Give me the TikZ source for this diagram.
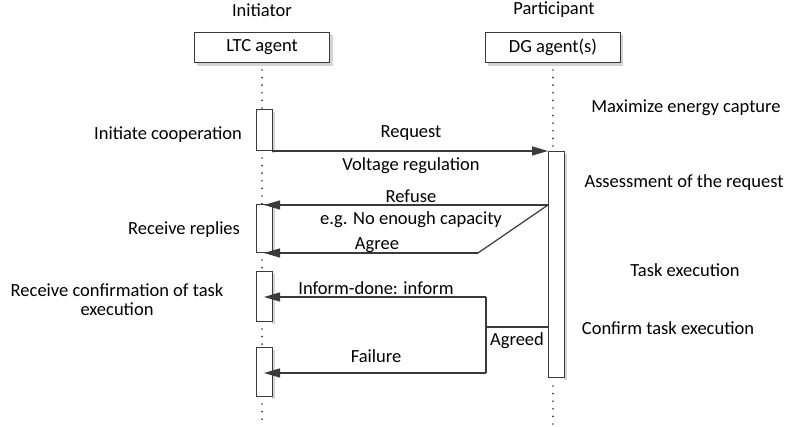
\documentclass[tikz,border=0pt]{standalone}
\usepackage{fontspec}
\setmainfont{Carlito}
\usetikzlibrary{arrows.meta,calc}
\definecolor{ink}{HTML}{3A3A3A}
\definecolor{shade}{HTML}{D4D4D4}
\tikzset{
  lbl/.style={font=\fontsize{18.5}{19}\selectfont, inner sep=0pt},
  agentbox/.style={draw=ink, line width=1pt, fill=white, minimum width=135pt, minimum height=30pt, inner sep=0pt, font=\fontsize{18.5}{19}\selectfont},
  act/.style={draw=ink, line width=1pt, fill=white, minimum width=16pt, inner sep=0pt, outer sep=0pt, anchor=north west},
  lifeline/.style={draw=ink, line width=1.9pt, line cap=round, dash pattern=on 0pt off 7.6pt},
  msg/.style={draw=ink, line width=1.2pt, -{Triangle[length=16pt,width=9pt]}},
  plain/.style={draw=ink, line width=1.2pt},
  boxshadow/.style={fill=shade}
}
\begin{document}
\begin{tikzpicture}[x=1pt,y=-1pt]
\useasboundingbox (0,0) rectangle (788,427);
\fill[white] (0,0) rectangle (788,427);

% headers
\node[lbl] (hinit) at (262,10) {Initiator};
\node[lbl] (hpart) at (554,10) {Participant};

% agent boxes with soft drop shadows
\fill[boxshadow] (197,35) rectangle (333,66);
\fill[boxshadow] (488,35) rectangle (623,66);
\node[agentbox, anchor=north west] (ltc) at (194,32) {LTC agent};
\node[agentbox, anchor=north west] (dg) at (485,32) {DG agent(s)};

% lifelines (dotted)
\coordinate (lend) at (262,424);
\coordinate (rend) at (553,424);
\draw[lifeline] (262,70) -- (262,110);
\draw[lifeline] (262,158) -- (262,205);
\draw[lifeline] (262,260) -- (262,272);
\draw[lifeline] (262,329) -- (262,348);
\draw[lifeline] (262,404) -- (lend);
\draw[lifeline] (553,70) -- (553,150);
\draw[lifeline] (553,386) -- (rend);

% activation shadows
\fill[boxshadow] (272,112) rectangle (275,153);
\fill[boxshadow] (272,207) rectangle (275,255);
\fill[boxshadow] (272,274) rectangle (275,324);
\fill[boxshadow] (272,350) rectangle (275,399);
\fill[boxshadow] (564,154) rectangle (567,380);

% activation bars
\node[act, minimum height=41pt] (a1) at (256,110) {};
\node[act, minimum height=48pt] (a2) at (256,205) {};
\node[act, minimum height=50pt] (a3) at (256,272) {};
\node[act, minimum height=49pt] (a4) at (256,348) {};
\node[act, minimum width=16pt, minimum height=226pt] (r1) at (548,152) {};

% messages
\draw[msg] (a1.south east) -- (a1.south east -| r1.west);
\node[lbl] (lreq) at (411,133) {Request};
\node[lbl] (lvolt) at (411,166) {Voltage regulation};

\coordinate (kref) at (r1.west |- a2.north);
\coordinate (kagr) at (478,253);
\draw[msg] (kref) -- (a2.north);
\draw[plain] (kref) -- (kagr);
\draw[msg] (kagr) -- (a2.south);
\node[lbl] (lref) at (411,196) {Refuse};
\node[lbl] (lcap) at (411,220) {e.g. No enough capacity};
\node[lbl] (lagr) at (377,245) {Agree};

\coordinate (jtop) at (486,297);
\coordinate (jbot) at (486,373);
\coordinate (jmid) at (486,327);
\draw[msg] (jtop) -- (a3.center |- jtop);
\draw[plain] (jtop) -- (jbot);
\draw[msg] (jbot) -- (a4.center |- jbot);
\draw[plain] (jmid) -- (jmid -| r1.west);
\node[lbl] (linf) at (376,288) {Inform-done: inform};
\node[lbl] (lfail) at (376,356) {Failure};
\node[lbl] (lagd) at (517,341) {Agreed};

% left-side notes
\node[lbl] (ninit) at (168,135) {Initiate cooperation};
\node[lbl] (nrepl) at (184,230) {Receive replies};
\node[lbl, align=center] (nconf) at (117,300) {Receive confirmation of task\\execution};

% right-side notes
\node[lbl] (nmax) at (686,108) {Maximize energy capture};
\node[lbl] (nass) at (684,183) {Assessment of the request};
\node[lbl] (ntask) at (685,270) {Task execution};
\node[lbl] (ncnf) at (668,328) {Confirm task execution};
\end{tikzpicture}
\end{document}
